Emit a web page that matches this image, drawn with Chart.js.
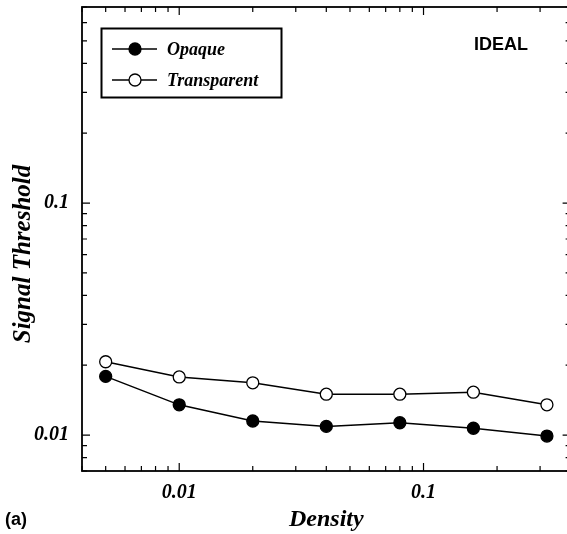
<!DOCTYPE html>
<html>
<head>
<meta charset="utf-8">
<script src="https://cdn.jsdelivr.net/npm/chart.js@4.4.1/dist/chart.umd.min.js"></script>
<style>
  html, body { margin: 0; padding: 0; background: #fff; overflow: hidden; }
  #wrap { width: 567px; height: 534px; overflow: hidden; position: relative; }
  canvas { display: block; }
</style>
</head>
<body>
<div id="wrap"><canvas id="chart" width="572" height="534"></canvas></div>
<script>
const densities = [0.005, 0.01, 0.02, 0.04, 0.08, 0.16, 0.32];
const opaque = [0.0179, 0.0135, 0.0115, 0.0109, 0.0113, 0.0107, 0.0099];
const transparent = [0.0207, 0.0178, 0.0168, 0.0150, 0.0150, 0.0153, 0.0135];
const xTickLabels = [0.01, 0.1];
const yTickLabels = [0.01, 0.1];
const seriesNames = ["Opaque", "Transparent"];
const yTitle = "Signal Threshold";

const SERIF = "'Liberation Serif', 'DejaVu Serif', serif";
const SANS = "'Liberation Sans', Arial, sans-serif";

const toPoints = (ys) => densities.map((x, i) => ({ x, y: ys[i] }));

function majorLabel(list) {
  return (value) => {
    const hit = list.find((v) => Math.abs(v - value) / v < 1e-6);
    return hit ? String(hit) : "";
  };
}

// frame, inward ticks on all four sides, legend box and text notes
const decorations = {
  id: "decorations",
  afterDatasetsDraw(chart) {
    const { ctx, chartArea: a, scales } = chart;
    ctx.save();
    ctx.strokeStyle = "#000";
    ctx.lineWidth = 1.8;
    ctx.strokeRect(a.left, a.top, a.right - a.left, a.bottom - a.top);

    ctx.lineWidth = 1.2;
    const logTicks = (scale) => {
      const out = [];
      for (let d = -4; d <= 1; d++) {
        for (let k = 1; k <= 9; k++) {
          const v = k * Math.pow(10, d);
          if (v >= scale.min * 0.9999 && v <= scale.max * 1.0001) out.push({ v, major: k === 1 });
        }
      }
      return out;
    };
    ctx.beginPath();
    logTicks(scales.x).forEach((t) => {
      const px = scales.x.getPixelForValue(t.v);
      const len = t.major ? 8 : 5;
      ctx.moveTo(px, a.bottom); ctx.lineTo(px, a.bottom - len);
      ctx.moveTo(px, a.top); ctx.lineTo(px, a.top + len);
    });
    logTicks(scales.y).forEach((t) => {
      const py = scales.y.getPixelForValue(t.v);
      const len = t.major ? 8 : 5;
      ctx.moveTo(a.left, py); ctx.lineTo(a.left + len, py);
      ctx.moveTo(a.right, py); ctx.lineTo(a.right - len, py);
    });
    ctx.stroke();

    // legend
    ctx.lineWidth = 2;
    ctx.strokeRect(101.5, 28.5, 180, 69);
    chart.data.datasets.forEach((ds, i) => {
      const y = 49 + i * 31;
      ctx.lineWidth = 1.5;
      ctx.strokeStyle = ds.borderColor;
      ctx.beginPath();
      ctx.moveTo(112, y); ctx.lineTo(157, y);
      ctx.stroke();
      ctx.beginPath();
      ctx.arc(135, y, ds.pointRadius, 0, Math.PI * 2);
      ctx.fillStyle = ds.pointBackgroundColor;
      ctx.fill();
      ctx.lineWidth = ds.pointBorderWidth;
      ctx.stroke();
      ctx.fillStyle = "#000";
      ctx.font = "italic bold 18px " + SERIF;
      ctx.textBaseline = "middle";
      ctx.textAlign = "left";
      ctx.fillText(ds.label, 167, y + 1);
    });

    // y title sits a bit below the plot centre in the original
    ctx.save();
    ctx.translate(24, 254);
    ctx.rotate(-Math.PI / 2);
    ctx.font = "italic bold 25px " + SERIF;
    ctx.textAlign = "center";
    ctx.textBaseline = "middle";
    ctx.fillStyle = "#000";
    ctx.fillText(yTitle, 0, 0);
    ctx.restore();

    ctx.fillStyle = "#000";
    ctx.font = "bold 18px " + SANS;
    ctx.textBaseline = "middle";
    ctx.textAlign = "left";
    ctx.fillText("IDEAL", 474, 45);
    ctx.fillText("(a)", 5, 520);
    ctx.restore();
  }
};

new Chart(document.getElementById("chart"), {
  type: "line",
  data: {
    datasets: [
      {
        label: seriesNames[0],
        data: toPoints(opaque),
        borderColor: "#000",
        borderWidth: 1.5,
        pointRadius: 6,
        pointBackgroundColor: "#000",
        pointBorderColor: "#000",
        pointBorderWidth: 1.3
      },
      {
        label: seriesNames[1],
        data: toPoints(transparent),
        borderColor: "#000",
        borderWidth: 1.5,
        pointRadius: 6,
        pointBackgroundColor: "#fff",
        pointBorderColor: "#000",
        pointBorderWidth: 1.3
      }
    ]
  },
  options: {
    responsive: false,
    animation: false,
    layout: { autoPadding: false, padding: { top: 7, right: 1.4, left: 0, bottom: 0 } },
    plugins: { legend: { display: false }, tooltip: { enabled: false } },
    scales: {
      x: {
        type: "logarithmic",
        min: 0.004,
        max: 0.4,
        grid: { display: false, drawTicks: false },
        border: { display: false },
        ticks: {
          autoSkip: false,
          maxRotation: 0,
          padding: 10,
          color: "#000",
          font: { family: SERIF, size: 20, style: "italic", weight: "bold" },
          callback: majorLabel(xTickLabels)
        },
        title: {
          display: true,
          text: "Density",
          color: "#000",
          padding: 0,
          font: { family: SERIF, size: 24, style: "italic", weight: "bold" }
        },
        afterFit: (scale) => {
          scale.height = 63;
          scale.paddingLeft = 0;
          scale.paddingRight = 0;
        }
      },
      y: {
        type: "logarithmic",
        min: 0.007,
        max: 0.7,
        grid: { display: false, drawTicks: false },
        border: { display: false },
        ticks: {
          autoSkip: false,
          padding: 13,
          color: "#000",
          font: { family: SERIF, size: 20, style: "italic", weight: "bold" },
          callback: majorLabel(yTickLabels)
        },
        title: { display: false },
        afterFit: (scale) => {
          scale.width = 82;
          scale.paddingTop = 0;
          scale.paddingBottom = 0;
        }
      }
    }
  },
  plugins: [decorations]
});
</script>
</body>
</html>
